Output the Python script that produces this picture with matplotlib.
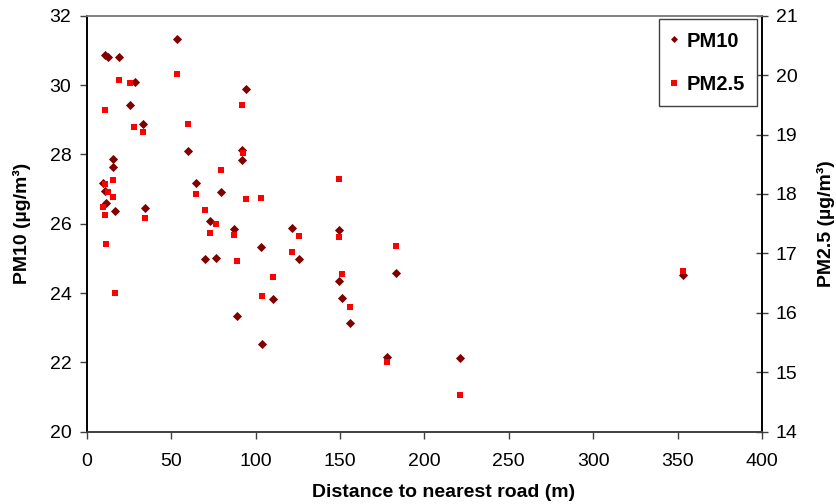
import matplotlib
matplotlib.use('Agg')
import matplotlib.pyplot as plt
import numpy as np

plt.rcParams['font.family'] = ['Liberation Sans', 'DejaVu Sans']

# ---------------- datos leidos por sitio ----------------
# PM10 (eje izquierdo)
dist_pm10 = [53.6, 10.9, 12.5, 19.4, 28.6, 94.5, 25.5, 33.6, 60.1, 91.9,
             92.1, 15.4, 15.6, 64.8, 79.8, 9.5, 10.9, 11.3, 16.8, 34.6,
             73.3, 87.5, 103.4, 70.2, 76.5, 110.1, 89.0, 103.6, 121.6, 149.6,
             125.9, 149.2, 183.5, 151.2, 156.0, 177.9, 221.0, 353.3]
pm10 = [31.33, 30.87, 30.80, 30.82, 30.08, 29.88, 29.43, 28.87, 28.10, 28.13,
        27.83, 27.86, 27.64, 27.18, 26.91, 27.18, 26.93, 26.60, 26.37, 26.46,
        26.08, 25.84, 25.32, 24.99, 25.00, 23.83, 23.33, 22.53, 25.88, 25.81,
        24.98, 24.35, 24.58, 23.85, 23.13, 22.15, 22.13, 24.52]

# PM2.5 (eje derecho)
dist_pm25 = [19.4, 25.5, 53.6, 10.7, 91.9, 59.9, 28.2, 33.6, 92.3, 79.8,
             15.4, 10.9, 64.8, 12.6, 15.8, 94.5, 103.4, 9.8, 11.0, 70.2,
             34.6, 11.3, 16.8, 76.5, 73.3, 87.5, 89.0, 110.1, 103.6, 149.6,
             125.7, 149.2, 183.3, 121.6, 151.2, 156.0, 177.9, 221.0, 353.3]
pm25 = [19.91, 19.87, 20.02, 19.41, 19.49, 19.17, 19.13, 19.05, 18.69, 18.40,
        18.23, 18.16, 18.00, 18.03, 17.95, 17.92, 17.94, 17.78, 17.65, 17.73,
        17.60, 17.16, 16.33, 17.49, 17.34, 17.31, 16.88, 16.61, 16.28, 18.25,
        17.30, 17.27, 17.12, 17.02, 16.65, 16.09, 15.18, 14.61, 16.71]

x_ticks = [0, 50, 100, 150, 200, 250, 300, 350, 400]
y1_ticks = [20, 22, 24, 26, 28, 30, 32]
y2_ticks = [14, 15, 16, 17, 18, 19, 20, 21]

# ---------------- figura ----------------
fig = plt.figure(figsize=(8.36, 5.04), dpi=100)
ax = fig.add_axes([0.1037, 0.1435, 0.8077, 0.8254])
ax2 = ax.twinx()

l1, = ax.plot(dist_pm10, pm10, linestyle='none', marker='D', markersize=3.7,
              color='#800000', markeredgewidth=0.6, label='PM10')
l2, = ax2.plot(dist_pm25, pm25, linestyle='none', marker='s', markersize=5.0,
               color='#FF0000', markeredgewidth=0, label='PM2.5')

ax.set_xlim(0, 400)
ax.set_ylim(20, 32)
ax2.set_ylim(14, 21)
ax.set_xticks(x_ticks)
ax.set_yticks(y1_ticks)
ax2.set_yticks(y2_ticks)

ax.tick_params(axis='both', labelsize=14, direction='out', length=5,
               width=1, color='#404040')
ax.tick_params(axis='x', pad=10)
ax.tick_params(axis='y', pad=6)
ax2.tick_params(axis='y', labelsize=14, direction='inout', length=8,
                width=1, color='#404040', pad=6)

for a in (ax, ax2):
    a.spines['left'].set_color('black')
    a.spines['bottom'].set_color('#404040')
    a.spines['right'].set_color('black')
    a.spines['top'].set_color('#808080')
    for s in a.spines.values():
        s.set_linewidth(1.2)

ax.set_xlabel('Distance to nearest road (m)', fontsize=14, fontweight='bold')
ax.set_ylabel('PM10 (µg/m³)', fontsize=14, fontweight='bold')
ax2.set_ylabel('PM2.5 (µg/m³)', fontsize=14, fontweight='bold')
ax.xaxis.set_label_coords(0.529, -0.147)
ax.xaxis.label.set_va('center')
ax.yaxis.set_label_coords(-0.096, 0.5)
ax.yaxis.label.set_va('center')
ax2.yaxis.set_label_coords(1.095, 0.5)
ax2.yaxis.label.set_va('center')

leg = ax2.legend(handles=[l1, l2], loc='upper right',
                 bbox_to_anchor=(0.993, 0.991),
                 prop={'weight': 'bold', 'size': 14.5},
                 frameon=True, fancybox=False, framealpha=1,
                 edgecolor='#404040', borderpad=0.6, labelspacing=1.2,
                 handlelength=0.35, handletextpad=0.45, borderaxespad=0,
                 markerscale=0.8)
leg.get_frame().set_linewidth(1.0)

fig.savefig('out.png', dpi=100)
